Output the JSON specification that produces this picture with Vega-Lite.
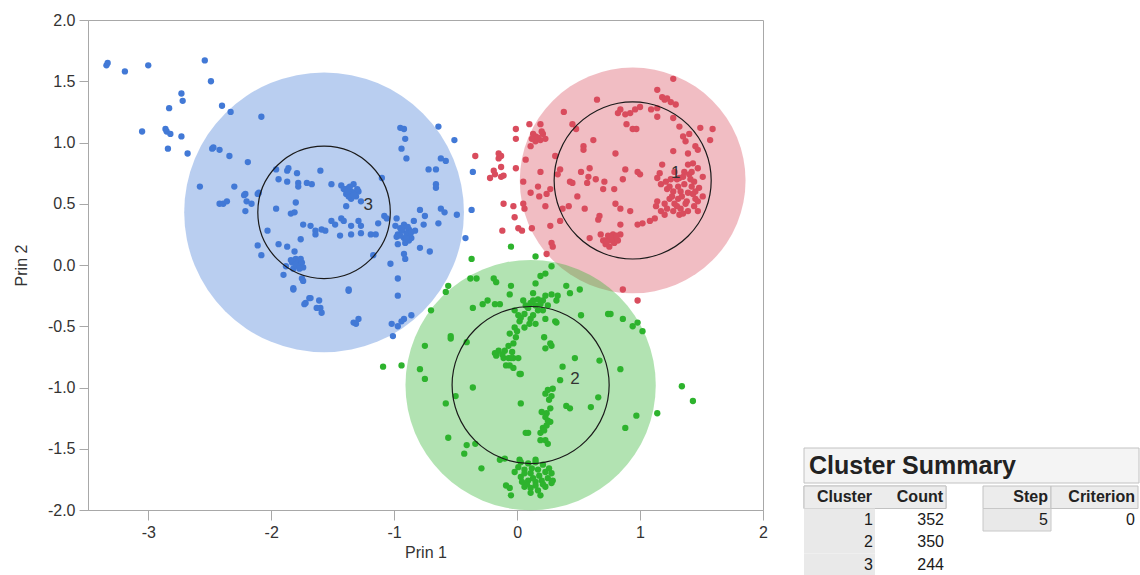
{
"$schema":"https://vega.github.io/schema/vega-lite/v6.json",
"padding":{"left":12,"top":11,"right":0,"bottom":0},
"config":{"view":{"stroke":null},"font":"Liberation Sans","axis":{"labelFont":"Liberation Sans","titleFont":"Liberation Sans","labelFontSize":16,"titleFontSize":16,"titleFontWeight":"normal","labelColor":"#333333","titleColor":"#333333","domainColor":"#a8a8a8","tickColor":"#a8a8a8","grid":false}},
"datasets":{
"circles":[{"cluster":"1","prin1":0.94,"prin2":0.69,"rBig":0.92,"rInner":0.64},{"cluster":"2","prin1":0.11,"prin2":-0.98,"rBig":1.02,"rInner":0.64},{"cluster":"3","prin1":-1.57,"prin2":0.43,"rBig":1.14,"rInner":0.54}],
"labels":[{"cluster":"1","prin1":1.29,"prin2":0.75},{"cluster":"2","prin1":0.47,"prin2":-0.93},{"cluster":"3","prin1":-1.21,"prin2":0.49}],
"summary":[{"col":"Cluster","row":"head","text":"Cluster"},{"col":"Count","row":"head","text":"Count"},{"col":"Cluster","row":"1","text":"1"},{"col":"Count","row":"1","text":"352"},{"col":"Cluster","row":"2","text":"2"},{"col":"Count","row":"2","text":"350"},{"col":"Cluster","row":"3","text":"3"},{"col":"Count","row":"3","text":"244"}],
"steps":[{"col":"Step","row":"head","text":"Step"},{"col":"Step","row":"1","text":"5"},{"col":"Criterion","row":"head","text":"Criterion"},{"col":"Criterion","row":"1","text":"0"}],
"points":[
{"prin1":-3.34,"prin2":1.63,"cluster":"3"},{"prin1":-3.33,"prin2":1.65,"cluster":"3"},{"prin1":-3.19,"prin2":1.58,"cluster":"3"},{"prin1":-3.0,"prin2":1.63,"cluster":"3"},{"prin1":-2.54,"prin2":1.67,"cluster":"3"},{"prin1":-2.49,"prin2":1.5,"cluster":"3"},{"prin1":-2.73,"prin2":1.4,"cluster":"3"},{"prin1":-2.72,"prin2":1.34,"cluster":"3"},{"prin1":-2.83,"prin2":1.28,"cluster":"3"},{"prin1":-2.4,"prin2":1.3,"cluster":"3"},{"prin1":-2.33,"prin2":1.25,"cluster":"3"},{"prin1":-2.08,"prin2":1.21,"cluster":"3"},{"prin1":-3.05,"prin2":1.09,"cluster":"3"},{"prin1":-2.86,"prin2":1.11,"cluster":"3"},{"prin1":-2.85,"prin2":1.09,"cluster":"3"},{"prin1":-2.82,"prin2":1.07,"cluster":"3"},{"prin1":-2.73,"prin2":1.05,"cluster":"3"},{"prin1":-2.84,"prin2":0.95,"cluster":"3"},{"prin1":-2.68,"prin2":0.91,"cluster":"3"},{"prin1":-2.48,"prin2":0.95,"cluster":"3"},{"prin1":-2.42,"prin2":0.94,"cluster":"3"},{"prin1":-2.34,"prin2":0.89,"cluster":"3"},{"prin1":-2.19,"prin2":0.84,"cluster":"3"},{"prin1":-2.58,"prin2":0.64,"cluster":"3"},{"prin1":-2.3,"prin2":0.64,"cluster":"3"},{"prin1":-2.42,"prin2":0.5,"cluster":"3"},{"prin1":-2.39,"prin2":0.5,"cluster":"3"},{"prin1":-2.36,"prin2":0.52,"cluster":"3"},{"prin1":-2.21,"prin2":0.58,"cluster":"3"},{"prin1":-2.2,"prin2":0.52,"cluster":"3"},{"prin1":-2.16,"prin2":0.5,"cluster":"3"},{"prin1":-2.21,"prin2":0.44,"cluster":"3"},{"prin1":-2.11,"prin2":0.58,"cluster":"3"},{"prin1":-2.47,"prin2":0.96,"cluster":"3"},{"prin1":-2.22,"prin2":0.57,"cluster":"3"},{"prin1":-2.1,"prin2":0.59,"cluster":"3"},{"prin1":-1.96,"prin2":0.78,"cluster":"3"},{"prin1":-1.87,"prin2":0.77,"cluster":"3"},{"prin1":-1.86,"prin2":0.79,"cluster":"3"},{"prin1":-1.79,"prin2":0.75,"cluster":"3"},{"prin1":-1.94,"prin2":0.7,"cluster":"3"},{"prin1":-1.87,"prin2":0.68,"cluster":"3"},{"prin1":-1.78,"prin2":0.67,"cluster":"3"},{"prin1":-1.71,"prin2":0.67,"cluster":"3"},{"prin1":-1.67,"prin2":0.66,"cluster":"3"},{"prin1":-1.6,"prin2":0.77,"cluster":"3"},{"prin1":-1.51,"prin2":0.66,"cluster":"3"},{"prin1":-1.78,"prin2":0.64,"cluster":"3"},{"prin1":-1.96,"prin2":0.46,"cluster":"3"},{"prin1":-1.84,"prin2":0.42,"cluster":"3"},{"prin1":-1.81,"prin2":0.43,"cluster":"3"},{"prin1":-1.8,"prin2":0.51,"cluster":"3"},{"prin1":-2.03,"prin2":0.28,"cluster":"3"},{"prin1":-1.74,"prin2":0.33,"cluster":"3"},{"prin1":-1.68,"prin2":0.32,"cluster":"3"},{"prin1":-1.64,"prin2":0.28,"cluster":"3"},{"prin1":-1.59,"prin2":0.29,"cluster":"3"},{"prin1":-1.56,"prin2":0.28,"cluster":"3"},{"prin1":-1.51,"prin2":0.36,"cluster":"3"},{"prin1":-1.64,"prin2":0.25,"cluster":"3"},{"prin1":-1.76,"prin2":0.21,"cluster":"3"},{"prin1":-1.94,"prin2":0.17,"cluster":"3"},{"prin1":-1.87,"prin2":0.15,"cluster":"3"},{"prin1":-2.11,"prin2":0.16,"cluster":"3"},{"prin1":-2.08,"prin2":0.08,"cluster":"3"},{"prin1":-1.81,"prin2":0.11,"cluster":"3"},{"prin1":-1.8,"prin2":0.05,"cluster":"3"},{"prin1":-1.78,"prin2":0.03,"cluster":"3"},{"prin1":-1.83,"prin2":0.02,"cluster":"3"},{"prin1":-1.79,"prin2":0.01,"cluster":"3"},{"prin1":-1.75,"prin2":0.02,"cluster":"3"},{"prin1":-1.88,"prin2":-0.01,"cluster":"3"},{"prin1":-1.9,"prin2":-0.08,"cluster":"3"},{"prin1":-1.75,"prin2":-0.11,"cluster":"3"},{"prin1":-1.82,"prin2":-0.19,"cluster":"3"},{"prin1":-1.69,"prin2":-0.27,"cluster":"3"},{"prin1":-1.72,"prin2":-0.31,"cluster":"3"},{"prin1":-1.61,"prin2":-0.29,"cluster":"3"},{"prin1":-1.6,"prin2":-0.35,"cluster":"3"},{"prin1":-1.59,"prin2":-0.39,"cluster":"3"},{"prin1":-1.78,"prin2":-0.01,"cluster":"3"},{"prin1":-1.82,"prin2":-0.03,"cluster":"3"},{"prin1":-1.74,"prin2":-0.02,"cluster":"3"},
{"prin1":-0.95,"prin2":1.12,"cluster":"3"},{"prin1":-0.92,"prin2":1.11,"cluster":"3"},{"prin1":-0.64,"prin2":1.13,"cluster":"3"},{"prin1":-0.91,"prin2":1.03,"cluster":"3"},{"prin1":-0.94,"prin2":0.95,"cluster":"3"},{"prin1":-0.9,"prin2":0.87,"cluster":"3"},{"prin1":-0.51,"prin2":1.02,"cluster":"3"},{"prin1":-0.62,"prin2":0.87,"cluster":"3"},{"prin1":-0.58,"prin2":0.85,"cluster":"3"},{"prin1":-0.72,"prin2":0.78,"cluster":"3"},{"prin1":-0.66,"prin2":0.78,"cluster":"3"},{"prin1":-0.66,"prin2":0.66,"cluster":"3"},{"prin1":-0.66,"prin2":0.63,"cluster":"3"},{"prin1":-0.36,"prin2":0.76,"cluster":"3"},{"prin1":-1.43,"prin2":0.65,"cluster":"3"},{"prin1":-1.37,"prin2":0.63,"cluster":"3"},{"prin1":-1.33,"prin2":0.66,"cluster":"3"},{"prin1":-1.39,"prin2":0.58,"cluster":"3"},{"prin1":-1.35,"prin2":0.54,"cluster":"3"},{"prin1":-1.31,"prin2":0.56,"cluster":"3"},{"prin1":-1.29,"prin2":0.6,"cluster":"3"},{"prin1":-1.27,"prin2":0.52,"cluster":"3"},{"prin1":-1.39,"prin2":0.48,"cluster":"3"},{"prin1":-1.1,"prin2":0.71,"cluster":"3"},{"prin1":-0.62,"prin2":0.46,"cluster":"3"},{"prin1":-0.59,"prin2":0.43,"cluster":"3"},{"prin1":-0.49,"prin2":0.41,"cluster":"3"},{"prin1":-0.79,"prin2":0.45,"cluster":"3"},{"prin1":-0.75,"prin2":0.4,"cluster":"3"},{"prin1":-0.37,"prin2":0.45,"cluster":"3"},{"prin1":-1.48,"prin2":0.33,"cluster":"3"},{"prin1":-1.43,"prin2":0.38,"cluster":"3"},{"prin1":-1.41,"prin2":0.36,"cluster":"3"},{"prin1":-1.35,"prin2":0.32,"cluster":"3"},{"prin1":-1.29,"prin2":0.36,"cluster":"3"},{"prin1":-1.27,"prin2":0.32,"cluster":"3"},{"prin1":-1.44,"prin2":0.24,"cluster":"3"},{"prin1":-1.35,"prin2":0.25,"cluster":"3"},{"prin1":-1.27,"prin2":0.26,"cluster":"3"},{"prin1":-1.19,"prin2":0.25,"cluster":"3"},{"prin1":-1.15,"prin2":0.25,"cluster":"3"},{"prin1":-1.13,"prin2":0.34,"cluster":"3"},{"prin1":-1.08,"prin2":0.4,"cluster":"3"},{"prin1":-1.06,"prin2":0.38,"cluster":"3"},{"prin1":-0.98,"prin2":0.38,"cluster":"3"},{"prin1":-0.99,"prin2":0.32,"cluster":"3"},{"prin1":-0.95,"prin2":0.3,"cluster":"3"},{"prin1":-0.92,"prin2":0.33,"cluster":"3"},{"prin1":-0.88,"prin2":0.29,"cluster":"3"},{"prin1":-0.84,"prin2":0.36,"cluster":"3"},{"prin1":-0.83,"prin2":0.28,"cluster":"3"},{"prin1":-0.97,"prin2":0.25,"cluster":"3"},{"prin1":-0.92,"prin2":0.22,"cluster":"3"},{"prin1":-0.91,"prin2":0.18,"cluster":"3"},{"prin1":-0.97,"prin2":0.17,"cluster":"3"},{"prin1":-0.86,"prin2":0.22,"cluster":"3"},{"prin1":-0.79,"prin2":0.14,"cluster":"3"},{"prin1":-0.76,"prin2":0.33,"cluster":"3"},{"prin1":-0.71,"prin2":0.11,"cluster":"3"},{"prin1":-0.64,"prin2":0.34,"cluster":"3"},{"prin1":-0.42,"prin2":0.22,"cluster":"3"},{"prin1":-0.92,"prin2":0.09,"cluster":"3"},{"prin1":-0.91,"prin2":0.05,"cluster":"3"},{"prin1":-1.03,"prin2":0.01,"cluster":"3"},{"prin1":-1.17,"prin2":0.08,"cluster":"3"},{"prin1":-0.97,"prin2":-0.11,"cluster":"3"},{"prin1":-1.37,"prin2":-0.21,"cluster":"3"},{"prin1":-0.97,"prin2":-0.25,"cluster":"3"},{"prin1":-1.33,"prin2":-0.47,"cluster":"3"},{"prin1":-1.29,"prin2":-0.44,"cluster":"3"},{"prin1":-1.31,"prin2":-0.48,"cluster":"3"},{"prin1":-1.02,"prin2":-0.48,"cluster":"3"},{"prin1":-0.97,"prin2":-0.5,"cluster":"3"},{"prin1":-0.92,"prin2":-0.44,"cluster":"3"},{"prin1":-0.86,"prin2":-0.41,"cluster":"3"},{"prin1":-1.01,"prin2":-0.58,"cluster":"3"},{"prin1":-0.94,"prin2":-0.46,"cluster":"3"},{"prin1":-1.82,"prin2":-0.2,"cluster":"3"},{"prin1":-1.74,"prin2":-0.13,"cluster":"3"},{"prin1":-1.73,"prin2":-0.32,"cluster":"3"},{"prin1":-1.68,"prin2":-0.27,"cluster":"3"},{"prin1":-1.63,"prin2":-0.35,"cluster":"3"},{"prin1":-1.37,"prin2":-0.2,"cluster":"3"},{"prin1":-1.35,"prin2":0.6,"cluster":"3"},{"prin1":-1.4,"prin2":0.62,"cluster":"3"},{"prin1":-1.32,"prin2":0.59,"cluster":"3"},{"prin1":-1.37,"prin2":0.56,"cluster":"3"},{"prin1":-0.9,"prin2":0.26,"cluster":"3"},{"prin1":-0.94,"prin2":0.28,"cluster":"3"},{"prin1":-0.87,"prin2":0.25,"cluster":"3"},{"prin1":-0.98,"prin2":0.23,"cluster":"3"},{"prin1":-0.88,"prin2":0.2,"cluster":"3"},
{"prin1":-1.41,"prin2":0.62,"cluster":"3"},{"prin1":-1.36,"prin2":0.64,"cluster":"3"},{"prin1":-1.33,"prin2":0.57,"cluster":"3"},{"prin1":-1.38,"prin2":0.6,"cluster":"3"},{"prin1":-1.3,"prin2":0.62,"cluster":"3"},{"prin1":-0.93,"prin2":0.3,"cluster":"3"},{"prin1":-0.89,"prin2":0.31,"cluster":"3"},{"prin1":-0.95,"prin2":0.24,"cluster":"3"},{"prin1":-0.9,"prin2":0.22,"cluster":"3"},{"prin1":-0.86,"prin2":0.27,"cluster":"3"},{"prin1":-1.8,"prin2":0.0,"cluster":"3"},{"prin1":-1.77,"prin2":-0.03,"cluster":"3"},{"prin1":-1.84,"prin2":0.04,"cluster":"3"},{"prin1":-1.76,"prin2":0.05,"cluster":"3"},
{"prin1":0.65,"prin2":1.35,"cluster":"1"},{"prin1":0.38,"prin2":1.25,"cluster":"1"},{"prin1":0.45,"prin2":1.15,"cluster":"1"},{"prin1":0.48,"prin2":1.11,"cluster":"1"},{"prin1":0.1,"prin2":1.15,"cluster":"1"},{"prin1":0.19,"prin2":1.15,"cluster":"1"},{"prin1":-0.01,"prin2":1.11,"cluster":"1"},{"prin1":-0.01,"prin2":1.03,"cluster":"1"},{"prin1":0.13,"prin2":1.07,"cluster":"1"},{"prin1":0.15,"prin2":1.05,"cluster":"1"},{"prin1":0.21,"prin2":1.07,"cluster":"1"},{"prin1":0.15,"prin2":1.01,"cluster":"1"},{"prin1":0.19,"prin2":1.02,"cluster":"1"},{"prin1":0.23,"prin2":1.03,"cluster":"1"},{"prin1":0.11,"prin2":0.97,"cluster":"1"},{"prin1":0.62,"prin2":1.02,"cluster":"1"},{"prin1":0.54,"prin2":0.97,"cluster":"1"},{"prin1":0.54,"prin2":0.94,"cluster":"1"},{"prin1":-0.34,"prin2":0.89,"cluster":"1"},{"prin1":-0.15,"prin2":0.91,"cluster":"1"},{"prin1":-0.15,"prin2":0.87,"cluster":"1"},{"prin1":-0.13,"prin2":0.89,"cluster":"1"},{"prin1":0.31,"prin2":0.89,"cluster":"1"},{"prin1":0.07,"prin2":0.86,"cluster":"1"},{"prin1":-0.01,"prin2":0.79,"cluster":"1"},{"prin1":-0.13,"prin2":0.8,"cluster":"1"},{"prin1":-0.19,"prin2":0.77,"cluster":"1"},{"prin1":-0.18,"prin2":0.74,"cluster":"1"},{"prin1":-0.22,"prin2":0.71,"cluster":"1"},{"prin1":-0.13,"prin2":0.72,"cluster":"1"},{"prin1":-0.11,"prin2":0.73,"cluster":"1"},{"prin1":0.19,"prin2":0.76,"cluster":"1"},{"prin1":0.35,"prin2":0.78,"cluster":"1"},{"prin1":0.33,"prin2":0.74,"cluster":"1"},{"prin1":0.52,"prin2":0.76,"cluster":"1"},{"prin1":0.58,"prin2":0.72,"cluster":"1"},{"prin1":0.59,"prin2":0.79,"cluster":"1"},{"prin1":0.05,"prin2":0.68,"cluster":"1"},{"prin1":0.43,"prin2":0.68,"cluster":"1"},{"prin1":0.45,"prin2":0.67,"cluster":"1"},{"prin1":0.57,"prin2":0.67,"cluster":"1"},{"prin1":0.64,"prin2":0.7,"cluster":"1"},{"prin1":0.71,"prin2":0.68,"cluster":"1"},{"prin1":0.17,"prin2":0.64,"cluster":"1"},{"prin1":0.27,"prin2":0.62,"cluster":"1"},{"prin1":0.7,"prin2":0.62,"cluster":"1"},{"prin1":0.11,"prin2":0.59,"cluster":"1"},{"prin1":0.18,"prin2":0.56,"cluster":"1"},{"prin1":0.24,"prin2":0.58,"cluster":"1"},{"prin1":0.49,"prin2":0.56,"cluster":"1"},{"prin1":-0.11,"prin2":0.5,"cluster":"1"},{"prin1":-0.03,"prin2":0.48,"cluster":"1"},{"prin1":0.05,"prin2":0.5,"cluster":"1"},{"prin1":0.06,"prin2":0.46,"cluster":"1"},{"prin1":0.23,"prin2":0.48,"cluster":"1"},{"prin1":0.37,"prin2":0.46,"cluster":"1"},{"prin1":0.42,"prin2":0.48,"cluster":"1"},{"prin1":0.55,"prin2":0.46,"cluster":"1"},{"prin1":-0.02,"prin2":0.39,"cluster":"1"},{"prin1":0.35,"prin2":0.36,"cluster":"1"},{"prin1":0.67,"prin2":0.4,"cluster":"1"},{"prin1":0.66,"prin2":0.37,"cluster":"1"},{"prin1":0.01,"prin2":0.3,"cluster":"1"},{"prin1":0.04,"prin2":0.28,"cluster":"1"},{"prin1":0.12,"prin2":0.3,"cluster":"1"},{"prin1":0.27,"prin2":0.32,"cluster":"1"},{"prin1":-0.12,"prin2":0.28,"cluster":"1"},{"prin1":0.59,"prin2":0.22,"cluster":"1"},{"prin1":0.68,"prin2":0.25,"cluster":"1"},{"prin1":0.28,"prin2":0.18,"cluster":"1"},{"prin1":0.29,"prin2":0.15,"cluster":"1"},{"prin1":0.75,"prin2":0.22,"cluster":"1"},{"prin1":0.72,"prin2":0.2,"cluster":"1"},{"prin1":0.24,"prin2":0.09,"cluster":"1"},
{"prin1":1.27,"prin2":1.52,"cluster":"1"},{"prin1":1.14,"prin2":1.43,"cluster":"1"},{"prin1":1.18,"prin2":1.37,"cluster":"1"},{"prin1":1.2,"prin2":1.35,"cluster":"1"},{"prin1":1.22,"prin2":1.36,"cluster":"1"},{"prin1":1.25,"prin2":1.33,"cluster":"1"},{"prin1":1.29,"prin2":1.31,"cluster":"1"},{"prin1":1.14,"prin2":1.28,"cluster":"1"},{"prin1":1.09,"prin2":1.27,"cluster":"1"},{"prin1":1.0,"prin2":1.29,"cluster":"1"},{"prin1":0.96,"prin2":1.27,"cluster":"1"},{"prin1":0.92,"prin2":1.24,"cluster":"1"},{"prin1":0.88,"prin2":1.23,"cluster":"1"},{"prin1":0.84,"prin2":1.27,"cluster":"1"},{"prin1":0.82,"prin2":1.24,"cluster":"1"},{"prin1":1.14,"prin2":1.21,"cluster":"1"},{"prin1":1.27,"prin2":1.2,"cluster":"1"},{"prin1":1.32,"prin2":1.13,"cluster":"1"},{"prin1":1.4,"prin2":1.07,"cluster":"1"},{"prin1":1.49,"prin2":1.12,"cluster":"1"},{"prin1":1.59,"prin2":1.11,"cluster":"1"},{"prin1":1.57,"prin2":1.02,"cluster":"1"},{"prin1":1.45,"prin2":0.97,"cluster":"1"},{"prin1":1.47,"prin2":0.94,"cluster":"1"},{"prin1":1.39,"prin2":0.91,"cluster":"1"},{"prin1":1.27,"prin2":0.93,"cluster":"1"},{"prin1":0.89,"prin2":1.15,"cluster":"1"},{"prin1":0.94,"prin2":1.11,"cluster":"1"},{"prin1":0.97,"prin2":1.11,"cluster":"1"},{"prin1":0.8,"prin2":0.91,"cluster":"1"},{"prin1":1.35,"prin2":1.05,"cluster":"1"},{"prin1":1.37,"prin2":1.01,"cluster":"1"},
{"prin1":1.18,"prin2":0.82,"cluster":"1"},{"prin1":1.16,"prin2":0.75,"cluster":"1"},{"prin1":1.14,"prin2":0.71,"cluster":"1"},{"prin1":1.17,"prin2":0.66,"cluster":"1"},{"prin1":1.21,"prin2":0.68,"cluster":"1"},{"prin1":1.22,"prin2":0.62,"cluster":"1"},{"prin1":1.28,"prin2":0.76,"cluster":"1"},{"prin1":1.32,"prin2":0.71,"cluster":"1"},{"prin1":1.36,"prin2":0.76,"cluster":"1"},{"prin1":1.39,"prin2":0.82,"cluster":"1"},{"prin1":1.43,"prin2":0.83,"cluster":"1"},{"prin1":1.47,"prin2":0.79,"cluster":"1"},{"prin1":1.4,"prin2":0.74,"cluster":"1"},{"prin1":1.44,"prin2":0.68,"cluster":"1"},{"prin1":1.48,"prin2":0.63,"cluster":"1"},{"prin1":1.36,"prin2":0.66,"cluster":"1"},{"prin1":1.33,"prin2":0.6,"cluster":"1"},{"prin1":1.39,"prin2":0.59,"cluster":"1"},{"prin1":1.43,"prin2":0.58,"cluster":"1"},{"prin1":1.45,"prin2":0.54,"cluster":"1"},{"prin1":1.31,"prin2":0.54,"cluster":"1"},{"prin1":1.28,"prin2":0.5,"cluster":"1"},{"prin1":1.33,"prin2":0.46,"cluster":"1"},{"prin1":1.37,"prin2":0.5,"cluster":"1"},{"prin1":1.44,"prin2":0.48,"cluster":"1"},{"prin1":1.47,"prin2":0.44,"cluster":"1"},{"prin1":1.32,"prin2":0.41,"cluster":"1"},{"prin1":1.27,"prin2":0.44,"cluster":"1"},{"prin1":1.2,"prin2":0.5,"cluster":"1"},{"prin1":1.14,"prin2":0.52,"cluster":"1"},{"prin1":1.13,"prin2":0.48,"cluster":"1"},{"prin1":1.17,"prin2":0.44,"cluster":"1"},{"prin1":1.2,"prin2":0.41,"cluster":"1"},{"prin1":1.22,"prin2":0.46,"cluster":"1"},{"prin1":1.24,"prin2":0.54,"cluster":"1"},{"prin1":1.27,"prin2":0.6,"cluster":"1"},{"prin1":1.31,"prin2":0.64,"cluster":"1"},{"prin1":1.0,"prin2":0.74,"cluster":"1"},{"prin1":0.98,"prin2":0.76,"cluster":"1"},{"prin1":0.88,"prin2":0.78,"cluster":"1"},{"prin1":0.86,"prin2":0.7,"cluster":"1"},{"prin1":0.79,"prin2":0.62,"cluster":"1"},{"prin1":0.8,"prin2":0.5,"cluster":"1"},{"prin1":0.84,"prin2":0.46,"cluster":"1"},{"prin1":0.92,"prin2":0.44,"cluster":"1"},{"prin1":0.98,"prin2":0.33,"cluster":"1"},{"prin1":1.02,"prin2":0.34,"cluster":"1"},{"prin1":1.08,"prin2":0.36,"cluster":"1"},{"prin1":1.12,"prin2":0.38,"cluster":"1"},{"prin1":0.84,"prin2":0.33,"cluster":"1"},{"prin1":0.78,"prin2":0.25,"cluster":"1"},{"prin1":0.75,"prin2":0.21,"cluster":"1"},{"prin1":0.8,"prin2":0.22,"cluster":"1"},{"prin1":0.84,"prin2":0.25,"cluster":"1"},{"prin1":0.72,"prin2":0.17,"cluster":"1"},{"prin1":0.79,"prin2":0.18,"cluster":"1"},{"prin1":0.74,"prin2":0.24,"cluster":"1"},{"prin1":0.77,"prin2":0.2,"cluster":"1"},{"prin1":0.82,"prin2":0.2,"cluster":"1"},{"prin1":0.7,"prin2":0.2,"cluster":"1"},{"prin1":0.75,"prin2":0.15,"cluster":"1"},{"prin1":0.86,"prin2":-0.2,"cluster":"1"},{"prin1":0.98,"prin2":-0.29,"cluster":"1"},{"prin1":1.41,"prin2":0.7,"cluster":"1"},{"prin1":1.34,"prin2":0.56,"cluster":"1"},{"prin1":1.51,"prin2":0.72,"cluster":"1"},{"prin1":1.47,"prin2":0.52,"cluster":"1"},{"prin1":1.24,"prin2":0.64,"cluster":"1"},{"prin1":1.39,"prin2":0.44,"cluster":"1"},{"prin1":1.51,"prin2":0.56,"cluster":"1"},
{"prin1":1.3,"prin2":0.7,"cluster":"1"},{"prin1":1.35,"prin2":0.72,"cluster":"1"},{"prin1":1.42,"prin2":0.64,"cluster":"1"},{"prin1":1.38,"prin2":0.52,"cluster":"1"},{"prin1":1.3,"prin2":0.48,"cluster":"1"},{"prin1":1.25,"prin2":0.7,"cluster":"1"},{"prin1":1.45,"prin2":0.6,"cluster":"1"},{"prin1":1.35,"prin2":0.42,"cluster":"1"},{"prin1":1.26,"prin2":0.56,"cluster":"1"},{"prin1":1.42,"prin2":0.76,"cluster":"1"},{"prin1":0.76,"prin2":0.23,"cluster":"1"},{"prin1":0.81,"prin2":0.24,"cluster":"1"},{"prin1":0.73,"prin2":0.19,"cluster":"1"},{"prin1":0.17,"prin2":1.04,"cluster":"1"},{"prin1":0.2,"prin2":1.09,"cluster":"1"},{"prin1":0.12,"prin2":1.03,"cluster":"1"},
{"prin1":-0.05,"prin2":0.15,"cluster":"2"},{"prin1":-0.37,"prin2":0.05,"cluster":"2"},{"prin1":0.15,"prin2":0.07,"cluster":"2"},{"prin1":0.23,"prin2":-0.07,"cluster":"2"},{"prin1":0.28,"prin2":-0.01,"cluster":"2"},{"prin1":-0.19,"prin2":-0.11,"cluster":"2"},{"prin1":-0.17,"prin2":-0.14,"cluster":"2"},{"prin1":-0.38,"prin2":-0.11,"cluster":"2"},{"prin1":-0.33,"prin2":-0.11,"cluster":"2"},{"prin1":-0.56,"prin2":-0.17,"cluster":"2"},{"prin1":-0.58,"prin2":-0.22,"cluster":"2"},{"prin1":-0.05,"prin2":-0.17,"cluster":"2"},{"prin1":0.15,"prin2":-0.15,"cluster":"2"},{"prin1":-0.06,"prin2":-0.24,"cluster":"2"},{"prin1":0.13,"prin2":-0.23,"cluster":"2"},{"prin1":0.23,"prin2":-0.25,"cluster":"2"},{"prin1":-0.28,"prin2":-0.32,"cluster":"2"},{"prin1":-0.18,"prin2":-0.32,"cluster":"2"},{"prin1":-0.14,"prin2":-0.32,"cluster":"2"},{"prin1":-0.36,"prin2":-0.35,"cluster":"2"},{"prin1":-0.7,"prin2":-0.37,"cluster":"2"},{"prin1":-0.02,"prin2":-0.37,"cluster":"2"},{"prin1":0.11,"prin2":-0.31,"cluster":"2"},{"prin1":0.15,"prin2":-0.33,"cluster":"2"},{"prin1":0.17,"prin2":-0.37,"cluster":"2"},{"prin1":0.06,"prin2":-0.4,"cluster":"2"},{"prin1":0.11,"prin2":-0.44,"cluster":"2"},{"prin1":0.15,"prin2":-0.48,"cluster":"2"},{"prin1":0.02,"prin2":-0.46,"cluster":"2"},{"prin1":-0.02,"prin2":-0.51,"cluster":"2"},{"prin1":0.06,"prin2":-0.51,"cluster":"2"},{"prin1":-0.06,"prin2":-0.56,"cluster":"2"},{"prin1":-0.01,"prin2":-0.59,"cluster":"2"},{"prin1":-0.03,"prin2":-0.64,"cluster":"2"},{"prin1":-0.07,"prin2":-0.66,"cluster":"2"},{"prin1":-0.15,"prin2":-0.7,"cluster":"2"},{"prin1":-0.17,"prin2":-0.74,"cluster":"2"},{"prin1":-0.11,"prin2":-0.76,"cluster":"2"},{"prin1":-0.07,"prin2":-0.76,"cluster":"2"},{"prin1":-0.03,"prin2":-0.76,"cluster":"2"},{"prin1":0.01,"prin2":-0.76,"cluster":"2"},{"prin1":-0.09,"prin2":-0.82,"cluster":"2"},{"prin1":-0.03,"prin2":-0.84,"cluster":"2"},{"prin1":0.03,"prin2":-0.89,"cluster":"2"},{"prin1":0.22,"prin2":-0.59,"cluster":"2"},{"prin1":0.23,"prin2":-0.68,"cluster":"2"},{"prin1":0.28,"prin2":-0.66,"cluster":"2"},{"prin1":-0.54,"prin2":-0.58,"cluster":"2"},{"prin1":-0.54,"prin2":-0.6,"cluster":"2"},{"prin1":-0.75,"prin2":-0.66,"cluster":"2"},{"prin1":-0.94,"prin2":-0.82,"cluster":"2"},{"prin1":-1.09,"prin2":-0.83,"cluster":"2"},{"prin1":-0.79,"prin2":-0.85,"cluster":"2"},{"prin1":-0.75,"prin2":-0.93,"cluster":"2"},{"prin1":-0.41,"prin2":-0.63,"cluster":"2"},{"prin1":0.31,"prin2":-0.46,"cluster":"2"},{"prin1":0.32,"prin2":-0.29,"cluster":"2"},{"prin1":-0.58,"prin2":-1.13,"cluster":"2"},{"prin1":-0.5,"prin2":-1.07,"cluster":"2"},{"prin1":-0.36,"prin2":-1.0,"cluster":"2"},{"prin1":-0.56,"prin2":-1.41,"cluster":"2"},{"prin1":-0.41,"prin2":-1.47,"cluster":"2"},{"prin1":-0.43,"prin2":-1.54,"cluster":"2"},{"prin1":-0.34,"prin2":-1.46,"cluster":"2"},{"prin1":-0.29,"prin2":-1.66,"cluster":"2"},{"prin1":-0.24,"prin2":-0.29,"cluster":"2"},{"prin1":0.28,"prin2":-0.24,"cluster":"2"},{"prin1":0.33,"prin2":-0.25,"cluster":"2"},{"prin1":0.4,"prin2":-0.17,"cluster":"2"},{"prin1":0.43,"prin2":-0.23,"cluster":"2"},{"prin1":0.51,"prin2":-0.2,"cluster":"2"},{"prin1":0.52,"prin2":-0.41,"cluster":"2"},{"prin1":0.74,"prin2":-0.4,"cluster":"2"},{"prin1":0.76,"prin2":-0.4,"cluster":"2"},{"prin1":0.86,"prin2":-0.44,"cluster":"2"},{"prin1":0.94,"prin2":-0.5,"cluster":"2"},{"prin1":0.98,"prin2":-0.47,"cluster":"2"},{"prin1":1.02,"prin2":-0.54,"cluster":"2"},{"prin1":0.47,"prin2":-0.76,"cluster":"2"},{"prin1":0.37,"prin2":-0.83,"cluster":"2"},{"prin1":0.35,"prin2":-0.94,"cluster":"2"},{"prin1":0.67,"prin2":-0.78,"cluster":"2"},{"prin1":0.84,"prin2":-0.85,"cluster":"2"},{"prin1":0.66,"prin2":-1.08,"cluster":"2"},{"prin1":0.6,"prin2":-1.16,"cluster":"2"},{"prin1":0.97,"prin2":-1.23,"cluster":"2"},{"prin1":0.88,"prin2":-1.33,"cluster":"2"},{"prin1":1.14,"prin2":-1.21,"cluster":"2"},{"prin1":1.34,"prin2":-0.99,"cluster":"2"},{"prin1":1.43,"prin2":-1.11,"cluster":"2"},{"prin1":0.03,"prin2":-1.13,"cluster":"2"},{"prin1":0.09,"prin2":-1.37,"cluster":"2"},{"prin1":0.23,"prin2":-1.05,"cluster":"2"},{"prin1":0.25,"prin2":-1.02,"cluster":"2"},{"prin1":0.28,"prin2":-1.07,"cluster":"2"},{"prin1":0.29,"prin2":-1.01,"cluster":"2"},{"prin1":0.27,"prin2":-1.17,"cluster":"2"},{"prin1":0.23,"prin2":-1.24,"cluster":"2"},{"prin1":0.27,"prin2":-1.28,"cluster":"2"},{"prin1":0.21,"prin2":-1.33,"cluster":"2"},{"prin1":0.19,"prin2":-1.37,"cluster":"2"},{"prin1":0.19,"prin2":-1.43,"cluster":"2"},{"prin1":0.23,"prin2":-1.43,"cluster":"2"},{"prin1":0.25,"prin2":-1.46,"cluster":"2"},{"prin1":0.4,"prin2":-1.15,"cluster":"2"},{"prin1":0.43,"prin2":-1.17,"cluster":"2"},{"prin1":0.27,"prin2":-0.64,"cluster":"2"},{"prin1":0.23,"prin2":-0.44,"cluster":"2"},{"prin1":0.32,"prin2":-0.47,"cluster":"2"},{"prin1":-0.1,"prin2":-0.7,"cluster":"2"},{"prin1":-0.18,"prin2":-0.72,"cluster":"2"},{"prin1":-0.05,"prin2":-0.76,"cluster":"2"},{"prin1":-0.06,"prin2":-0.82,"cluster":"2"},{"prin1":0.02,"prin2":-0.89,"cluster":"2"},
{"prin1":0.01,"prin2":-1.65,"cluster":"2"},{"prin1":0.06,"prin2":-1.67,"cluster":"2"},{"prin1":0.11,"prin2":-1.7,"cluster":"2"},{"prin1":0.17,"prin2":-1.67,"cluster":"2"},{"prin1":0.23,"prin2":-1.69,"cluster":"2"},{"prin1":0.25,"prin2":-1.74,"cluster":"2"},{"prin1":0.28,"prin2":-1.78,"cluster":"2"},{"prin1":0.23,"prin2":-1.81,"cluster":"2"},{"prin1":0.17,"prin2":-1.84,"cluster":"2"},{"prin1":0.15,"prin2":-1.77,"cluster":"2"},{"prin1":0.09,"prin2":-1.76,"cluster":"2"},{"prin1":0.03,"prin2":-1.73,"cluster":"2"},{"prin1":0.06,"prin2":-1.81,"cluster":"2"},{"prin1":0.11,"prin2":-1.86,"cluster":"2"},{"prin1":0.19,"prin2":-1.88,"cluster":"2"},{"prin1":-0.05,"prin2":-1.88,"cluster":"2"},{"prin1":-0.09,"prin2":-1.8,"cluster":"2"},{"prin1":-0.06,"prin2":-1.82,"cluster":"2"},{"prin1":-0.02,"prin2":-1.69,"cluster":"2"},{"prin1":0.03,"prin2":-1.61,"cluster":"2"},{"prin1":0.09,"prin2":-1.62,"cluster":"2"},{"prin1":0.15,"prin2":-1.61,"cluster":"2"},{"prin1":0.21,"prin2":-1.63,"cluster":"2"},{"prin1":0.28,"prin2":-1.7,"cluster":"2"},{"prin1":0.29,"prin2":-1.76,"cluster":"2"},{"prin1":0.11,"prin2":-1.82,"cluster":"2"},{"prin1":0.15,"prin2":-1.8,"cluster":"2"},{"prin1":0.06,"prin2":-1.7,"cluster":"2"},{"prin1":0.07,"prin2":-1.37,"cluster":"2"},{"prin1":0.24,"prin2":-1.21,"cluster":"2"},{"prin1":0.25,"prin2":-1.27,"cluster":"2"},{"prin1":-0.14,"prin2":-1.59,"cluster":"2"},{"prin1":-0.1,"prin2":-1.58,"cluster":"2"},{"prin1":0.02,"prin2":-1.59,"cluster":"2"},{"prin1":0.15,"prin2":-1.59,"cluster":"2"},{"prin1":0.24,"prin2":-1.31,"cluster":"2"},{"prin1":0.21,"prin2":-0.29,"cluster":"2"},{"prin1":0.25,"prin2":-0.33,"cluster":"2"},{"prin1":0.17,"prin2":-0.28,"cluster":"2"},{"prin1":0.07,"prin2":-0.33,"cluster":"2"},{"prin1":0.13,"prin2":-0.41,"cluster":"2"},{"prin1":0.05,"prin2":-0.29,"cluster":"2"},{"prin1":0.21,"prin2":-0.37,"cluster":"2"},{"prin1":0.01,"prin2":-0.41,"cluster":"2"},{"prin1":0.19,"prin2":-0.09,"cluster":"2"},
{"prin1":0.13,"prin2":-1.74,"cluster":"2"},{"prin1":0.2,"prin2":-1.76,"cluster":"2"},{"prin1":0.18,"prin2":-1.72,"cluster":"2"},{"prin1":0.08,"prin2":-1.79,"cluster":"2"},{"prin1":0.21,"prin2":-1.79,"cluster":"2"},{"prin1":0.12,"prin2":-1.66,"cluster":"2"},{"prin1":0.26,"prin2":-1.66,"cluster":"2"},{"prin1":0.04,"prin2":-1.77,"cluster":"2"},{"prin1":0.09,"prin2":-0.35,"cluster":"2"},{"prin1":0.13,"prin2":-0.29,"cluster":"2"},{"prin1":0.19,"prin2":-0.32,"cluster":"2"},{"prin1":0.1,"prin2":-0.48,"cluster":"2"},{"prin1":0.03,"prin2":-0.43,"cluster":"2"},{"prin1":-0.04,"prin2":-0.71,"cluster":"2"},{"prin1":-0.12,"prin2":-0.73,"cluster":"2"},{"prin1":0.0,"prin2":-0.54,"cluster":"2"},{"prin1":0.2,"prin2":-1.2,"cluster":"2"},{"prin1":0.22,"prin2":-1.35,"cluster":"2"},{"prin1":0.26,"prin2":-1.1,"cluster":"2"}
]},
"hconcat":[
{"width":675,"height":490,"view":{"stroke":"#a8a8a8"},
"layer":[
{"data":{"name":"circles"},"mark":{"type":"point","shape":"circle","filled":true,"opacity":0.37,"strokeWidth":0},
"encoding":{
"x":{"field":"prin1","type":"quantitative","scale":{"domain":[-3.49,2],"nice":false,"zero":false},"axis":{"title":"Prin 1","values":[-3,-2.5,-2,-1.5,-1,-0.5,0,0.5,1,1.5,2],"labelExpr":"datum.value % 1 === 0 ? replace(datum.label, '−', '-') : ''","format":"d","tickSize":{"condition":{"test":"datum.value % 1 === 0","value":10},"value":5},"labelFlush":false,"labelOverlap":false,"labelPadding":4,"titlePadding":4}},
"y":{"field":"prin2","type":"quantitative","scale":{"domain":[-2,2],"nice":false,"zero":false},"axis":{"title":"Prin 2","values":[-2,-1.5,-1,-0.5,0,0.5,1,1.5,2],"format":".1f","labelExpr":"replace(datum.label, '−', '-')","tickSize":9,"labelPadding":4,"labelOverlap":false,"titlePadding":18}},
"size":{"field":"rBig","type":"quantitative","scale":{"type":"pow","exponent":2,"domain":[0,1],"range":[0,60221]},"legend":null},
"color":{"field":"cluster","type":"nominal","scale":{"domain":["1","2","3"],"range":["#d94c5d","#2db32d","#4279d6"]},"legend":null}}},
{"data":{"name":"points"},"mark":{"type":"circle","size":40,"opacity":1},
"encoding":{"x":{"field":"prin1","type":"quantitative"},"y":{"field":"prin2","type":"quantitative"},"color":{"field":"cluster","type":"nominal","legend":null}}},
{"data":{"name":"circles"},"mark":{"type":"point","shape":"circle","filled":false,"stroke":"#1a1a1a","strokeWidth":1.2,"opacity":1},
"encoding":{"x":{"field":"prin1","type":"quantitative"},"y":{"field":"prin2","type":"quantitative"},"size":{"field":"rInner","type":"quantitative","legend":null}}},
{"data":{"name":"labels"},"mark":{"type":"text","fontSize":17,"color":"#333333","baseline":"middle","align":"center"},
"encoding":{"x":{"field":"prin1","type":"quantitative"},"y":{"field":"prin2","type":"quantitative"},"text":{"field":"cluster"}}}
]},
{"vconcat":[
{"width":335,"height":425,"data":{"values":[{"t":""}]},"mark":{"type":"text"},"encoding":{"text":{"field":"t"}}},
{"width":335,"height":35,"data":{"values":[{"t":"Cluster Summary"}]},
"layer":[
{"mark":{"type":"rect","fill":"#f4f4f4","stroke":"#c2c2c2","strokeWidth":1},"encoding":{"x":{"field":"t","type":"nominal","scale":{"type":"band","paddingInner":0,"paddingOuter":0},"axis":null},"y":{"field":"t","type":"nominal","scale":{"type":"band","paddingInner":0,"paddingOuter":0},"axis":null}}},
{"mark":{"type":"text","align":"left","baseline":"middle","dx":5,"fontSize":25,"fontWeight":"bold","color":"#222222"},"encoding":{"x":{"field":"t","type":"nominal","bandPosition":0,"axis":null},"y":{"field":"t","type":"nominal","bandPosition":0.5,"axis":null},"text":{"field":"t"}}}
]},
{"hconcat":[
{"width":142,"height":90,"data":{"name":"summary"},
"layer":[
{"transform":[{"filter":"datum.row === 'head'"}],"mark":{"type":"rect","fill":"#ececec","stroke":"#c2c2c2","strokeWidth":1},"encoding":{"y":{"field":"row","type":"nominal","scale":{"type":"band","domain":["head","1","2","3"],"paddingInner":0,"paddingOuter":0},"axis":null}}},
{"transform":[{"filter":"datum.row !== 'head' && datum.col === 'Cluster'"}],"mark":{"type":"rect","fill":"#e9e9e9"},"encoding":{"x":{"field":"col","type":"nominal","scale":{"type":"band","domain":["Cluster","Count"],"paddingInner":0,"paddingOuter":0},"axis":null},"y":{"field":"row","type":"nominal","axis":null}}},
{"transform":[{"filter":"datum.row === 'head'"}],"mark":{"type":"text","align":"right","baseline":"middle","dx":-3,"fontSize":16,"fontWeight":"bold","color":"#222222"},"encoding":{"x":{"field":"col","type":"nominal","bandPosition":1,"axis":null},"y":{"field":"row","type":"nominal","bandPosition":0.5,"axis":null},"text":{"field":"text"}}},
{"transform":[{"filter":"datum.row !== 'head'"}],"mark":{"type":"text","align":"right","baseline":"middle","dx":-2,"fontSize":16,"color":"#1a1a1a"},"encoding":{"x":{"field":"col","type":"nominal","bandPosition":1,"axis":null},"y":{"field":"row","type":"nominal","bandPosition":0.5,"axis":null},"text":{"field":"text"}}}
]},
{"hconcat":[
{"width":68,"height":90,"data":{"name":"steps"},"transform":[{"filter":"datum.col === 'Step'"}],
"layer":[
{"transform":[{"filter":"datum.row === 'head'"}],"mark":{"type":"rect","fill":"#ececec","stroke":"#c2c2c2","strokeWidth":1},"encoding":{"x":{"field":"col","type":"nominal","scale":{"type":"band","paddingInner":0,"paddingOuter":0},"axis":null},"y":{"field":"row","type":"nominal","scale":{"type":"band","domain":["head","1","2","3"],"paddingInner":0,"paddingOuter":0},"axis":null}}},
{"transform":[{"filter":"datum.row !== 'head'"}],"mark":{"type":"rect","fill":"#e9e9e9","stroke":"#c8c8c8","strokeWidth":1},"encoding":{"x":{"field":"col","type":"nominal","axis":null},"y":{"field":"row","type":"nominal","axis":null}}},
{"transform":[{"filter":"datum.row === 'head'"}],"mark":{"type":"text","align":"right","baseline":"middle","dx":-3,"fontSize":16,"fontWeight":"bold","color":"#222222"},"encoding":{"x":{"field":"col","type":"nominal","bandPosition":1,"axis":null},"y":{"field":"row","type":"nominal","bandPosition":0.5,"axis":null},"text":{"field":"text"}}},
{"transform":[{"filter":"datum.row !== 'head'"}],"mark":{"type":"text","align":"right","baseline":"middle","dx":-3,"fontSize":16,"color":"#1a1a1a"},"encoding":{"x":{"field":"col","type":"nominal","bandPosition":1,"axis":null},"y":{"field":"row","type":"nominal","bandPosition":0.5,"axis":null},"text":{"field":"text"}}}
]},
{"width":87,"height":90,"data":{"name":"steps"},"transform":[{"filter":"datum.col === 'Criterion'"}],
"layer":[
{"transform":[{"filter":"datum.row === 'head'"}],"mark":{"type":"rect","fill":"#ececec","stroke":"#c2c2c2","strokeWidth":1},"encoding":{"x":{"field":"col","type":"nominal","scale":{"type":"band","paddingInner":0,"paddingOuter":0},"axis":null},"y":{"field":"row","type":"nominal","scale":{"type":"band","domain":["head","1","2","3"],"paddingInner":0,"paddingOuter":0},"axis":null}}},
{"transform":[{"filter":"datum.row === 'head'"}],"mark":{"type":"text","align":"right","baseline":"middle","dx":-3,"fontSize":16,"fontWeight":"bold","color":"#222222"},"encoding":{"x":{"field":"col","type":"nominal","bandPosition":1,"axis":null},"y":{"field":"row","type":"nominal","bandPosition":0.5,"axis":null},"text":{"field":"text"}}},
{"transform":[{"filter":"datum.row !== 'head'"}],"mark":{"type":"text","align":"right","baseline":"middle","dx":-3,"fontSize":16,"color":"#1a1a1a"},"encoding":{"x":{"field":"col","type":"nominal","bandPosition":1,"axis":null},"y":{"field":"row","type":"nominal","bandPosition":0.5,"axis":null},"text":{"field":"text"}}}
]}
],"spacing":0,"bounds":"flush"}
],"spacing":37,"bounds":"flush"}
],"spacing":3,"bounds":"flush"}
],
"spacing":41,"bounds":"flush"
}
